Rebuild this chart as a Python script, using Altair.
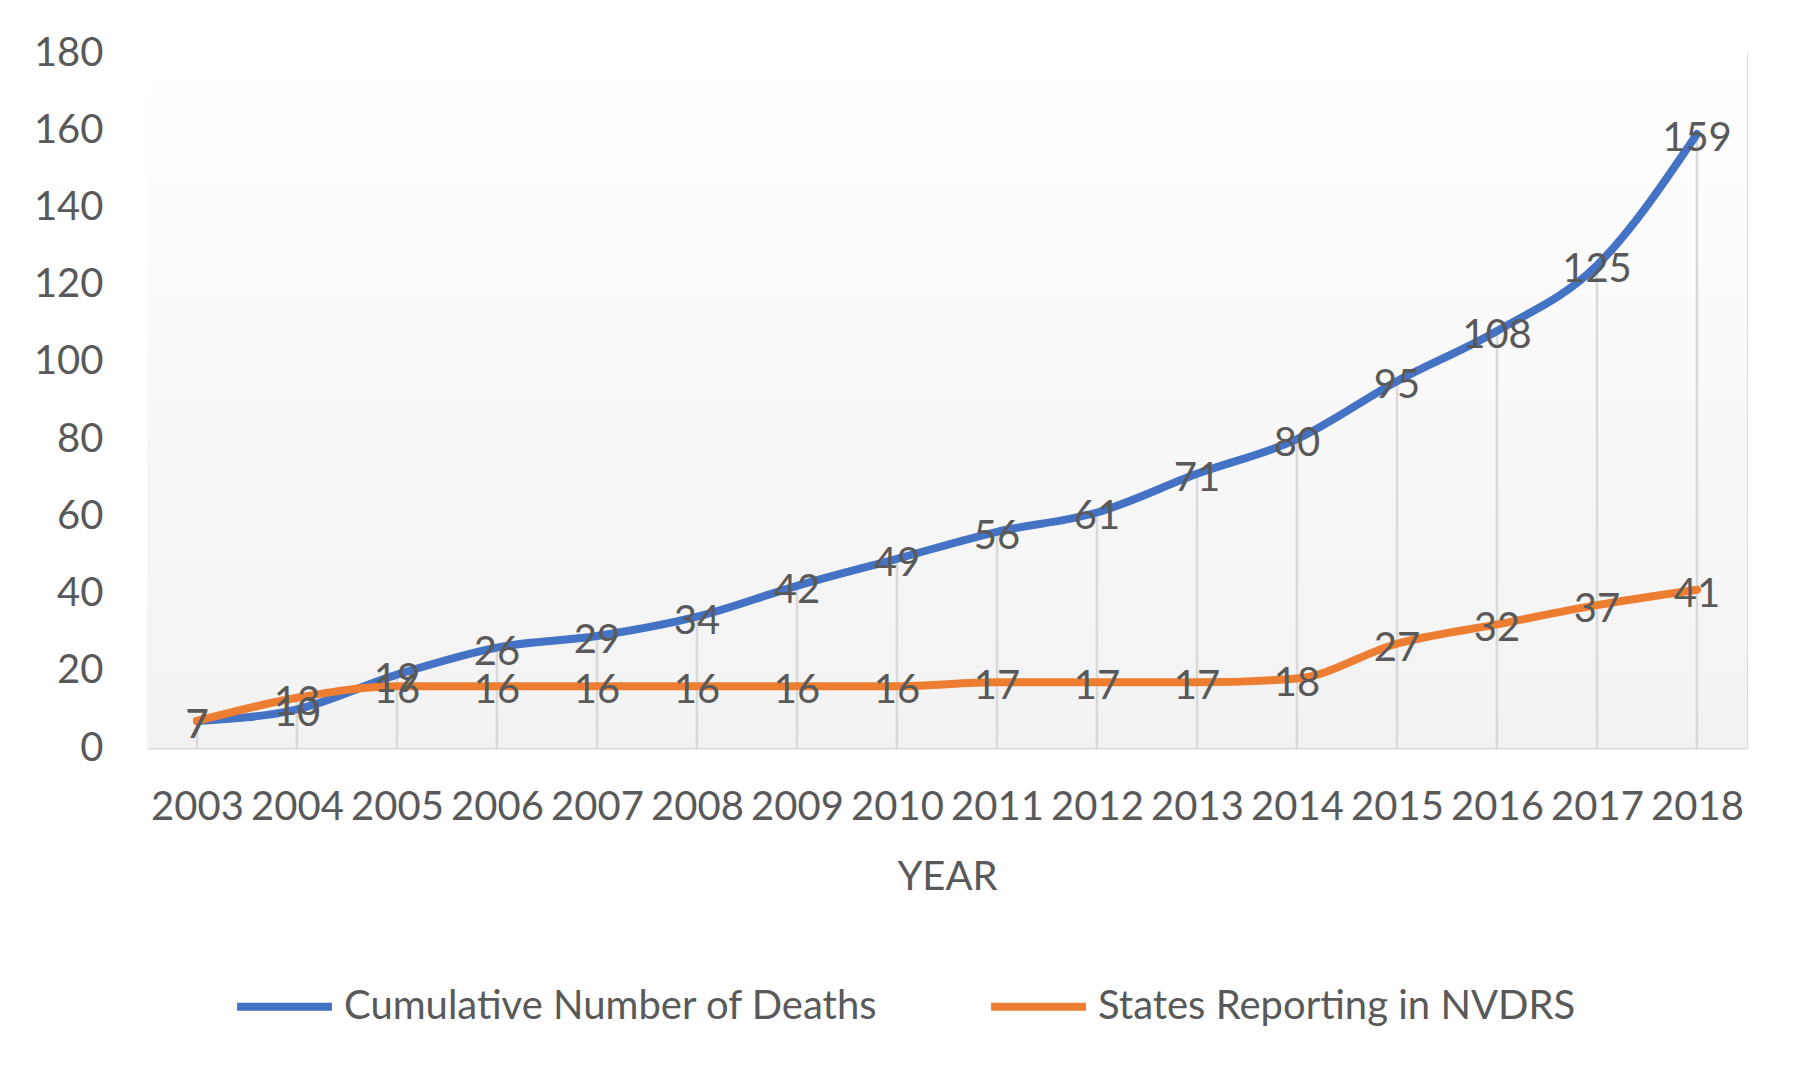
import altair as alt
import pandas as pd

years = [str(y) for y in range(2003, 2019)]
deaths = [7, 10, 19, 26, 29, 34, 42, 49, 56, 61, 71, 80, 95, 108, 125, 159]
states = [7, 13, 16, 16, 16, 16, 16, 16, 17, 17, 17, 18, 27, 32, 37, 41]
series_names = ["Cumulative Number of Deaths", "States Reporting in NVDRS"]
series_colors = ["#4472C4", "#ED7D31"]
y_ticks = list(range(0, 181, 20))

FONT = "Lato"
TXT = "#595959"

rows = []
for i, yr in enumerate(years):
    rows.append({"year": yr, "series": series_names[0], "value": deaths[i], "order": 0})
    rows.append({"year": yr, "series": series_names[1], "value": states[i], "order": 1})
long_df = pd.DataFrame(rows)

drop_df = pd.DataFrame({"year": years, "top": [max(a, b) for a, b in zip(deaths, states)], "zero": [0] * len(years)})

x_enc = alt.X(
    "year:N",
    sort=years,
    scale=alt.Scale(type="point", padding=0.5, domain=years),
    axis=alt.Axis(
        title="YEAR",
        labelAngle=0,
        labelFont=FONT,
        labelFontSize=40,
        labelColor=TXT,
        labelPadding=39,
        titleFont=FONT,
        titleFontSize=40,
        titleColor=TXT,
        titleFontWeight="normal",
        titlePadding=30,
        ticks=False,
        domainColor="#d9d9d9",
        domainWidth=2,
        grid=False,
    ),
)

y_scale = alt.Scale(domain=[0, 180], nice=False, zero=True)

background = alt.Chart(pd.DataFrame({"k": [0]})).mark_rect(
    color=alt.Gradient(
        gradient="linear",
        x1=0, y1=0, x2=0, y2=1,
        stops=[
            alt.GradientStop(offset=0, color="#ffffff"),
            alt.GradientStop(offset=1, color="#f2f2f2"),
        ],
    )
).encode(x=alt.value(0), x2=alt.value("width"), y=alt.value(0), y2=alt.value("height"))

drops = alt.Chart(drop_df).mark_rule(color="#d9d9d9", strokeWidth=2.5).encode(
    x=x_enc,
    y=alt.Y("top:Q", scale=y_scale,
            axis=alt.Axis(title=None, values=y_ticks, labelFont=FONT, labelFontSize=40,
                          labelColor=TXT, labelPadding=44, ticks=False, domain=False, grid=False)),
    y2="zero:Q",
)

lines = alt.Chart(long_df).mark_line(strokeWidth=8, interpolate="monotone", strokeCap="round").encode(
    x=x_enc,
    y=alt.Y("value:Q", scale=y_scale),
    color=alt.Color(
        "series:N",
        scale=alt.Scale(domain=series_names, range=series_colors),
        legend=alt.Legend(
            title=None,
            orient="none",
            direction="horizontal",
            legendX=86,
            legendY=902,
            symbolType="stroke",
            symbolSize=9000,
            symbolStrokeWidth=8,
            labelFont=FONT,
            labelFontSize=40,
            labelColor=TXT,
            labelOffset=8,
            columnPadding=96,
            labelLimit=800,
        ),
    ),
    order="order:Q",
)

labels = alt.Chart(long_df).mark_text(
    font=FONT, fontSize=40, color=TXT, align="center", baseline="middle", dy=5
).encode(
    x=x_enc,
    y=alt.Y("value:Q", scale=y_scale),
    text="value:Q",
)

chart = alt.layer(background, drops, lines, labels).properties(
    width=1600,
    height=695,
    autosize=alt.AutoSizeParams(type="none"),
    padding={"left": 139, "top": 45, "right": 45, "bottom": 324},
).configure_view(stroke=None).configure(background="white")

chart.save("out.html", embed_options={"renderer": "svg", "actions": False})
